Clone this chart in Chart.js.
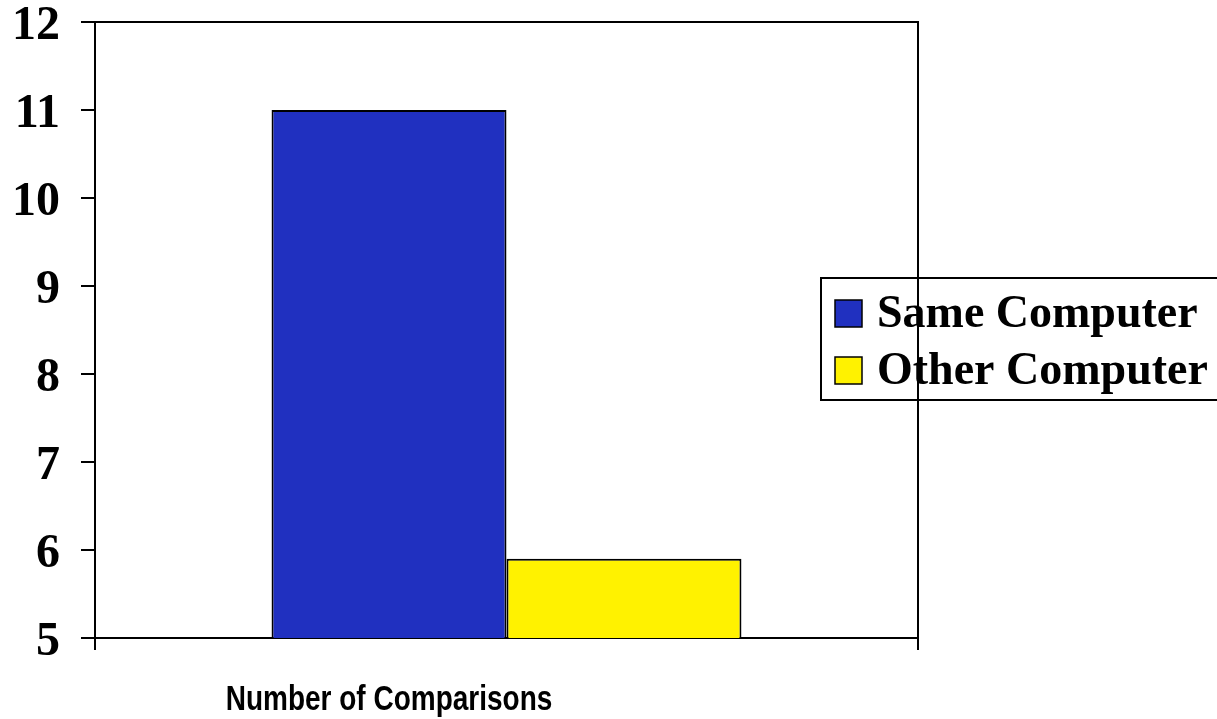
<!DOCTYPE html>
<html>
<head>
<meta charset="utf-8">
<title>Number of Comparisons</title>
<script src="https://cdn.jsdelivr.net/npm/chart.js@4/dist/chart.umd.min.js"></script>
<style>
  html, body { margin: 0; padding: 0; background: #ffffff; }
  #wrap { width: 1217px; height: 719px; position: relative; }
</style>
</head>
<body>
<div id="wrap"><canvas id="chart" width="1217" height="719"></canvas></div>
<script>
// Data
const categories = ['Number of Comparisons'];
const seriesNames = ['Same Computer', 'Other Computer'];
const sameComputer = [11];
const otherComputer = [5.9];
const yMin = 5;
const yMax = 12;
const yStep = 1;

const seriesColors = ['#2030C0', '#FFF200'];

// Legend box drawn over the plot's right side, with rows taken from the datasets
const boxLegend = {
  id: 'boxLegend',
  afterDatasetsDraw(chart) {
    const ctx = chart.ctx;
    const left = 821, top = 278, rowH = 57;
    const rows = chart.data.datasets.length;
    ctx.save();
    ctx.fillStyle = '#ffffff';
    ctx.fillRect(left, top, 420, rows * rowH + 8);
    ctx.strokeStyle = '#000000';
    ctx.lineWidth = 2;
    ctx.strokeRect(left, top, 420, rows * rowH + 8);
    ctx.font = 'bold 46px "Liberation Serif", "Times New Roman", serif';
    ctx.textBaseline = 'alphabetic';
    chart.data.datasets.forEach((ds, i) => {
      const base = top + 49 + i * rowH;
      ctx.fillStyle = ds.backgroundColor;
      ctx.fillRect(835, base - 27, 27, 27);
      ctx.lineWidth = 1.5;
      ctx.strokeStyle = '#000000';
      ctx.strokeRect(835, base - 27, 27, 27);
      ctx.fillStyle = '#000000';
      ctx.fillText(ds.label, 877, base);
    });
    ctx.restore();
  }
};

// Top and right edges of the plot frame, plus the category caption
const frameAndCaption = {
  id: 'frameAndCaption',
  afterDraw(chart) {
    const ctx = chart.ctx;
    const a = chart.chartArea;
    ctx.save();
    ctx.strokeStyle = '#000000';
    ctx.lineWidth = 2;
    ctx.beginPath();
    ctx.moveTo(a.left, a.top);
    ctx.lineTo(a.right, a.top);
    ctx.lineTo(a.right, a.bottom);
    ctx.stroke();

    const bar = chart.getDatasetMeta(0).data[0];
    ctx.translate(bar.x, 710);
    ctx.scale(0.8, 1);
    ctx.font = 'bold 35px "Liberation Sans", Arial, sans-serif';
    ctx.textAlign = 'center';
    ctx.textBaseline = 'alphabetic';
    ctx.fillStyle = '#000000';
    ctx.fillText(chart.data.labels[0], 0, 0);
    ctx.restore();
  }
};

new Chart(document.getElementById('chart'), {
  type: 'bar',
  data: {
    labels: categories,
    datasets: [
      {
        label: seriesNames[0],
        data: sameComputer,
        backgroundColor: seriesColors[0],
        borderColor: '#000000',
        borderWidth: 2,
        borderSkipped: 'bottom'
      },
      {
        label: seriesNames[1],
        data: otherComputer,
        backgroundColor: seriesColors[1],
        borderColor: '#000000',
        borderWidth: 2,
        borderSkipped: 'bottom'
      }
    ]
  },
  options: {
    responsive: false,
    animation: false,
    devicePixelRatio: 1,
    categoryPercentage: 0.571,
    barPercentage: 1.0,
    layout: { padding: { left: 0, top: 22, right: 299, bottom: 0 } },
    plugins: {
      legend: { display: false },
      tooltip: { enabled: false }
    },
    scales: {
      x: {
        type: 'category',
        offset: true,
        afterFit(scale) { scale.height = 81; },
        ticks: { display: false },
        grid: {
          offset: true,
          drawOnChartArea: false,
          drawTicks: true,
          tickLength: 12,
          color: '#000000',
          lineWidth: 2
        },
        border: { display: true, color: '#000000', width: 2 }
      },
      y: {
        min: yMin,
        max: yMax,
        afterFit(scale) {
          scale.width = 95;
          // the end labels may overhang the plot; keep the frame where it is
          scale.paddingTop = 0;
          scale.paddingBottom = 0;
        },
        ticks: {
          stepSize: yStep,
          color: '#000000',
          padding: 21,
          labelOffset: 5,
          font: { family: '"Liberation Serif", "Times New Roman", serif', size: 48, weight: 'bold', lineHeight: 0.8 }
        },
        grid: {
          drawOnChartArea: false,
          drawTicks: true,
          tickLength: 14,
          color: '#000000',
          lineWidth: 2
        },
        border: { display: true, color: '#000000', width: 2 }
      }
    }
  },
  plugins: [boxLegend, frameAndCaption]
});
</script>
</body>
</html>
